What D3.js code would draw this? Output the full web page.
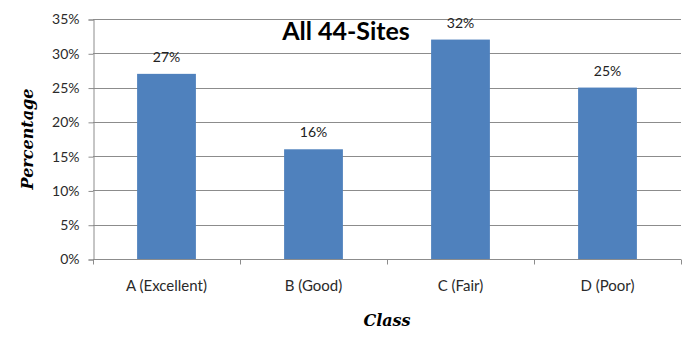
<!DOCTYPE html>
<html><head><meta charset="utf-8">
<script src="https://cdn.jsdelivr.net/npm/d3@7"></script>
<style>body{margin:0;background:#fff;}svg{display:block;}</style>
</head><body>
<script>
const categories = ["A (Excellent)", "B (Good)", "C (Fair)", "D (Poor)"];
const values = [27, 16, 32, 25];
const yTicks = [0, 5, 10, 15, 20, 25, 30, 35];
const title = "All 44-Sites";
const xTitle = "Class";
const yTitle = "Percentage";

const W = 700, H = 339;
const m = {left: 93, right: 19, top: 19, bottom: 80};
const svg = d3.select("body").append("svg").attr("width", W).attr("height", H);

const x = d3.scaleBand().domain(categories).range([m.left, W - m.right]).paddingInner(0.6).paddingOuter(0.3);
const y = d3.scaleLinear().domain([0, 35]).range([H - m.bottom, m.top]);

const grid = "#8c8c8c";
const sans = "Lato, 'Open Sans', sans-serif";
// gridlines
svg.append("g").selectAll("line").data(yTicks.filter(d => d > 0)).join("line")
  .attr("x1", m.left).attr("x2", W - m.right)
  .attr("y1", d => Math.round(y(d)) + 0.5).attr("y2", d => Math.round(y(d)) + 0.5)
  .attr("stroke", grid).attr("stroke-width", 1);

// y axis
const yAxis = svg.append("g").attr("transform", `translate(${m.left + 0.5},0.5)`)
  .call(d3.axisLeft(y).tickValues(yTicks).tickFormat(d => d + "%").tickSize(5).tickPadding(9));
yAxis.selectAll("line,path").attr("stroke", grid);
yAxis.selectAll("text").attr("font-family", sans).attr("font-size", 14).attr("fill", "#2a2a2a");

// x axis with ticks at band boundaries
const xAxisG = svg.append("g").attr("transform", `translate(0,${Math.round(y(0)) + 0.5})`);
xAxisG.append("line").attr("x1", m.left).attr("x2", W - m.right).attr("stroke", grid);
const boundaries = d3.range(categories.length + 1).map(i => m.left + i * x.step());
xAxisG.selectAll("line.tk").data(boundaries).join("line").attr("class", "tk")
  .attr("x1", d => Math.round(d) + 0.5).attr("x2", d => Math.round(d) + 0.5)
  .attr("y1", 0).attr("y2", 5).attr("stroke", grid);
xAxisG.selectAll("text").data(categories).join("text")
  .attr("x", d => x(d) + x.bandwidth() / 2).attr("y", 31)
  .attr("text-anchor", "middle")
  .attr("font-family", sans).attr("font-size", 15).attr("fill", "#2a2a2a")
  .text(d => d);

// bars
svg.append("g").selectAll("rect").data(values).join("rect")
  .attr("x", (d, i) => x(categories[i])).attr("width", x.bandwidth())
  .attr("y", d => y(d)).attr("height", d => y(0) - y(d))
  .attr("fill", "#4F81BD");

// value labels
svg.append("g").selectAll("text").data(values).join("text")
  .attr("x", (d, i) => x(categories[i]) + x.bandwidth() / 2)
  .attr("y", d => y(d) - 12)
  .attr("text-anchor", "middle")
  .attr("font-family", sans).attr("font-size", 14).attr("fill", "#222")
  .text(d => d + "%");

// title
svg.append("text").attr("x", 346).attr("y", 40).attr("text-anchor", "middle")
  .attr("font-family", sans).attr("font-weight", "bold").attr("font-size", 25)
  .attr("fill", "#000").text(title);

// axis titles
svg.append("text").attr("x", 387).attr("y", 326).attr("text-anchor", "middle")
  .attr("font-family", "'DejaVu Serif', serif").attr("font-style", "italic").attr("font-weight", "bold")
  .attr("font-size", 16).attr("fill", "#000").text(xTitle);
svg.append("text").attr("transform", "translate(33,139) rotate(-90)").attr("text-anchor", "middle")
  .attr("font-family", "'DejaVu Serif', serif").attr("font-style", "italic").attr("font-weight", "bold")
  .attr("font-size", 16).attr("fill", "#000").text(yTitle);
</script>
</body></html>
